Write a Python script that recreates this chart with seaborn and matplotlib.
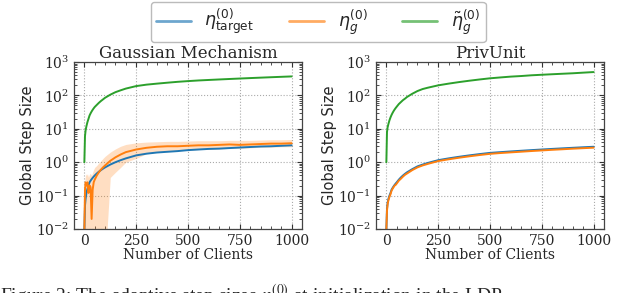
import matplotlib
matplotlib.use("Agg")
import matplotlib.pyplot as plt
from matplotlib.font_manager import FontProperties
from matplotlib.lines import Line2D
import seaborn as sns
import numpy as np

# ---------------- data ----------------
clients = [0, 3, 6, 10, 15, 20, 25, 30, 35, 40, 45, 50, 60, 70, 80, 90, 100,
           125, 150, 175, 200, 250, 300, 350, 400, 450, 500, 550, 600, 650,
           700, 750, 800, 850, 900, 950, 1000]

# Gaussian Mechanism
gm_target = [0.01, 0.05, 0.08, 0.12, 0.16, 0.2, 0.25, 0.28, 0.31, 0.34, 0.37, 0.4, 0.46, 0.52,
             0.58, 0.64, 0.7, 0.85, 1.0, 1.15, 1.3, 1.6, 1.8, 1.95, 2.05, 2.15, 2.3, 2.4,
             2.5, 2.55, 2.65, 2.75, 2.85, 2.95, 3.0, 3.1, 3.2]
gm_eta_g = [0.01, 0.15, 0.25, 0.2, 0.25, 0.12, 0.2, 0.18, 0.02, 0.15, 0.25, 0.3, 0.4, 0.5,
            0.6, 0.7, 0.8, 1.1, 1.4, 1.7, 2.0, 2.4, 2.7, 2.9, 3.0, 3.0, 3.1, 3.2,
            3.2, 3.3, 3.4, 3.3, 3.4, 3.5, 3.6, 3.6, 3.7]
gm_eta_g_low = [0.001, 0.001, 0.001, 0.001, 0.001, 0.001, 0.001, 0.001, 0.001, 0.001, 0.001,
                0.001, 0.001, 0.001, 0.001, 0.001, 0.001, 0.35, 0.5, 0.7, 1.0, 1.3, 1.8,
                2.0, 2.1, 2.2, 2.3, 2.4, 2.4, 2.5, 2.6, 2.6, 2.7, 2.8, 2.8, 2.9, 2.9]
gm_eta_g_high = [0.02, 0.3, 0.45, 0.4, 0.45, 0.35, 0.45, 0.45, 0.4, 0.5, 0.6, 0.7, 0.8, 0.95,
                 1.1, 1.3, 1.5, 2.0, 2.5, 3.0, 3.4, 3.8, 4.0, 4.1, 4.2, 4.2, 4.3, 4.4,
                 4.4, 4.4, 4.5, 4.5, 4.5, 4.6, 4.7, 4.7, 4.8]
gm_tilde = [1.0, 6.0, 9.0, 12, 16, 20, 25, 29, 33, 37, 41, 45, 52, 60, 68, 76, 85,
            105, 125, 142, 160, 190, 210, 225, 240, 255, 268, 280, 290, 300,
            310, 320, 330, 340, 350, 360, 370]

# PrivUnit
pu_target = [0.01, 0.04, 0.06, 0.08, 0.1, 0.12, 0.15, 0.17, 0.19, 0.21, 0.23, 0.25, 0.3, 0.35,
             0.4, 0.45, 0.5, 0.62, 0.75, 0.85, 0.95, 1.15, 1.3, 1.45, 1.6, 1.75, 1.9, 2.0,
             2.1, 2.2, 2.3, 2.4, 2.5, 2.6, 2.7, 2.8, 2.9]
pu_eta_g = [0.01, 0.035, 0.055, 0.073, 0.092, 0.11, 0.14, 0.16, 0.18, 0.2, 0.21, 0.23, 0.28, 0.32,
            0.37, 0.42, 0.46, 0.58, 0.7, 0.8, 0.89, 1.08, 1.22, 1.36, 1.5, 1.64, 1.78, 1.88,
            1.97, 2.06, 2.16, 2.25, 2.35, 2.44, 2.54, 2.63, 2.72]
pu_tilde = [1.0, 8.0, 11, 14, 18, 22, 26, 30, 34, 38, 42, 46, 55, 63, 72, 80, 90,
            112, 135, 155, 170, 200, 225, 250, 275, 300, 325, 345, 365, 380,
            400, 415, 430, 445, 460, 480, 500]

titles = ["Gaussian Mechanism", "PrivUnit"]
xlabel = "Number of Clients"
ylabel = "Global Step Size"
legend_labels = [r"$\eta^{(0)}_{\mathrm{target}}$", r"$\eta^{(0)}_{g}$", r"$\tilde{\eta}^{(0)}_{g}$"]
caption = r"Figure 2: The adaptive step sizes $\eta_g^{(0)}$ at initialization in the LDP"

# ---------------- style ----------------
sns.set_theme(style="ticks")
plt.rcParams["font.family"] = ["DejaVu Serif"]
plt.rcParams["mathtext.fontset"] = "dejavuserif"

c_blue, c_orange, c_green = "#1f77b4", "#ff7f0e", "#2ca02c"

fig = plt.figure(figsize=(6.4, 2.93), dpi=100)
ax1 = fig.add_axes([74 / 640, 1 - 229 / 293, 228 / 640, 167 / 293])
ax2 = fig.add_axes([376 / 640, 1 - 229 / 293, 228 / 640, 167 / 293])

x = np.array(clients)
panels = [
    (ax1, gm_target, gm_eta_g, gm_tilde, gm_eta_g_low, gm_eta_g_high),
    (ax2, pu_target, pu_eta_g, pu_tilde, None, None),
]

for (ax, tgt, eg, til, lo, hi), title in zip(panels, titles):
    if lo is not None:
        ax.fill_between(x, lo, hi, color=c_orange, alpha=0.25, linewidth=0)
    sns.lineplot(x=x, y=tgt, ax=ax, color=c_blue, linewidth=1.4)
    sns.lineplot(x=x, y=eg, ax=ax, color=c_orange, linewidth=1.4)
    sns.lineplot(x=x, y=til, ax=ax, color=c_green, linewidth=1.4)
    ax.set_yscale("log")
    ax.set_ylim(1e-2, 1e3)
    ax.set_xlim(-50, 1050)
    ax.set_xticks([0, 250, 500, 750, 1000])
    ax.set_yticks([1e-2, 1e-1, 1e0, 1e1, 1e2, 1e3])
    ax.minorticks_on()
    ax.tick_params(which="both", direction="in", top=True, right=True, labelsize=10,
                   color="#333333")
    ax.tick_params(which="major", length=3.5, width=0.8)
    ax.tick_params(which="minor", length=2, width=0.6)
    ax.grid(True, which="major", linestyle=":", color="#aaaaaa", linewidth=0.8)
    for s in ax.spines.values():
        s.set_color("#444444")
        s.set_linewidth(0.9)
    ax.set_title(title, fontsize=12, pad=2)
    ax.set_xlabel(xlabel, fontsize=10, labelpad=0)
    ax.set_ylabel(ylabel, fontsize=10.5, labelpad=1, family="DejaVu Sans")

handles = [Line2D([], [], color=c, linewidth=2, alpha=0.65) for c in (c_blue, c_orange, c_green)]
fig.legend(handles, legend_labels, loc="upper center", bbox_to_anchor=(0.497, 1.0),
           ncol=3, frameon=True, fancybox=True, edgecolor="#aaaaaa", columnspacing=2.0,
           borderpad=0.3, borderaxespad=0.1,
           prop=FontProperties(family="DejaVu Sans", size=12.5, math_fontfamily="dejavusans"))

fig.text(0.0, 1 - 302 / 293, caption, fontsize=14, family="Liberation Serif",
         math_fontfamily="stix", va="baseline", ha="left")

fig.savefig("out.png", dpi=100)
